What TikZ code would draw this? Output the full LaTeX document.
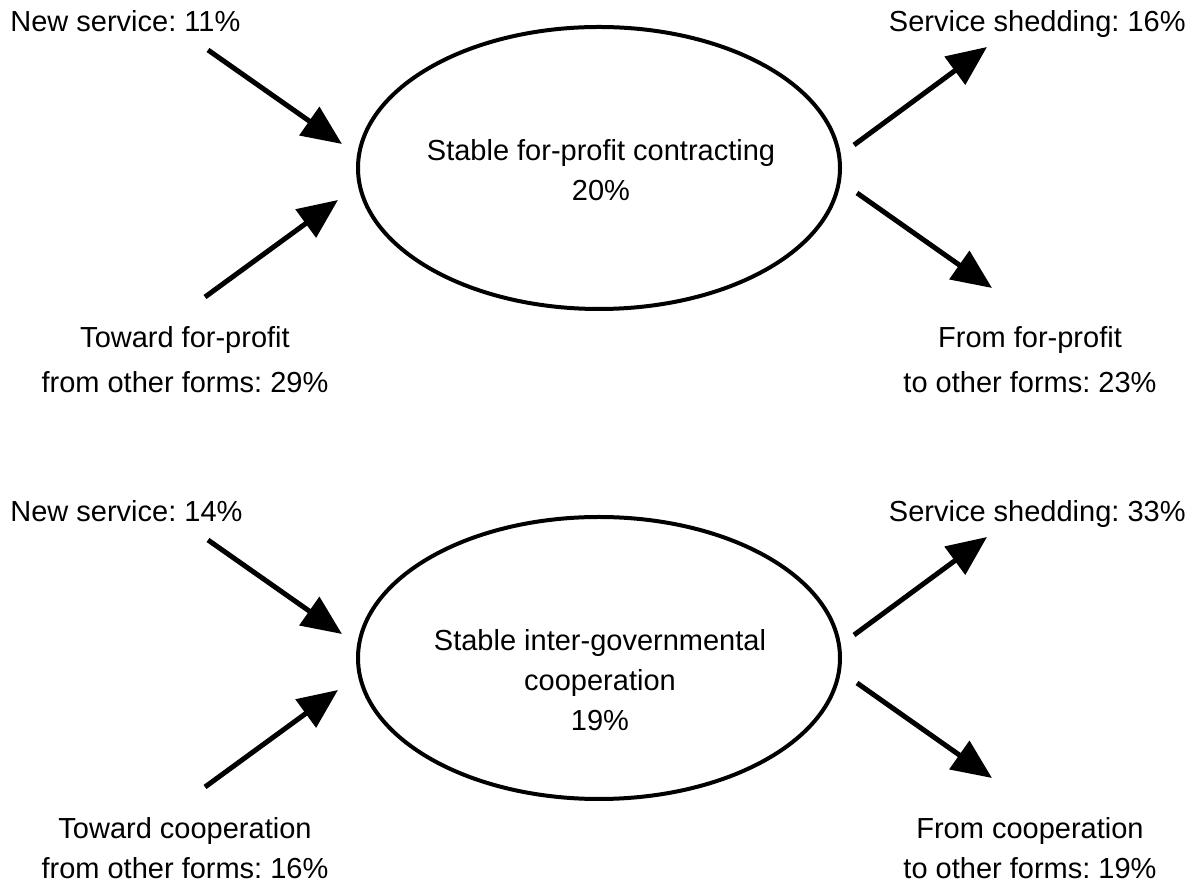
\documentclass[tikz,border=0pt]{standalone}
\usepackage{fontspec}
\setmainfont{Liberation Sans}
\usetikzlibrary{arrows.meta,shapes.geometric}
\frenchspacing

\begin{document}
\begin{tikzpicture}[x=.5pt,y=-.5pt,every node/.style={font=\fontsize{14.5}{20}\selectfont,inner sep=0pt}]
\tikzstyle{form}=[draw,ellipse,line width=2pt,minimum width=241pt,minimum height=141pt]
\tikzstyle{flow}=[line width=2.5pt,-{Triangle[length=20pt,width=17pt]}]
\tikzstyle{lbl}=[align=center]
\tikzstyle{wide}=[align=center,font=\fontsize{14.5}{22.5}\selectfont]

\useasboundingbox (0,0) rectangle (1195,886);

% for-profit contracting
\node[form] (fp) at (599,168) {};
\node[lbl] (fptxt) at (601,170) {Stable for-profit contracting\\20\%};
\node[anchor=base west] (fpnew) at (10,32) {New service: 11\%};
\node[anchor=base east] (fpshed) at (1186,32) {Service shedding: 16\%};
\node[wide] (fpin) at (185,360) {Toward for-profit\\from other forms: 29\%};
\node[wide] (fpout) at (1030,360) {From for-profit\\to other forms: 23\%};

% inter-governmental cooperation
\node[form] (co) at (599,658) {};
\node[lbl] (cotxt) at (600,680) {Stable inter-governmental\\cooperation\\19\%};
\node[anchor=base west] (conew) at (10,522) {New service: 14\%};
\node[anchor=base east] (coshed) at (1186,522) {Service shedding: 33\%};
\node[lbl] (coin) at (185,848) {Toward cooperation\\from other forms: 16\%};
\node[lbl] (coout) at (1030,848) {From cooperation\\to other forms: 19\%};

% flows in and out, same for both
\foreach \p/\dy in {fp/0,co/490} {
  \coordinate (\p newtail) at (208,50+\dy);
  \coordinate (\p newtip) at (342,144+\dy);
  \coordinate (\p intail) at (205,297+\dy);
  \coordinate (\p intip) at (338,200+\dy);
  \coordinate (\p shedtail) at (854,145+\dy);
  \coordinate (\p shedtip) at (987,47+\dy);
  \coordinate (\p outtail) at (857,193+\dy);
  \coordinate (\p outtip) at (992,288+\dy);
  \draw[flow] (\p newtail) -- (\p newtip);
  \draw[flow] (\p intail) -- (\p intip);
  \draw[flow] (\p shedtail) -- (\p shedtip);
  \draw[flow] (\p outtail) -- (\p outtip);
}
\end{tikzpicture}
\end{document}
